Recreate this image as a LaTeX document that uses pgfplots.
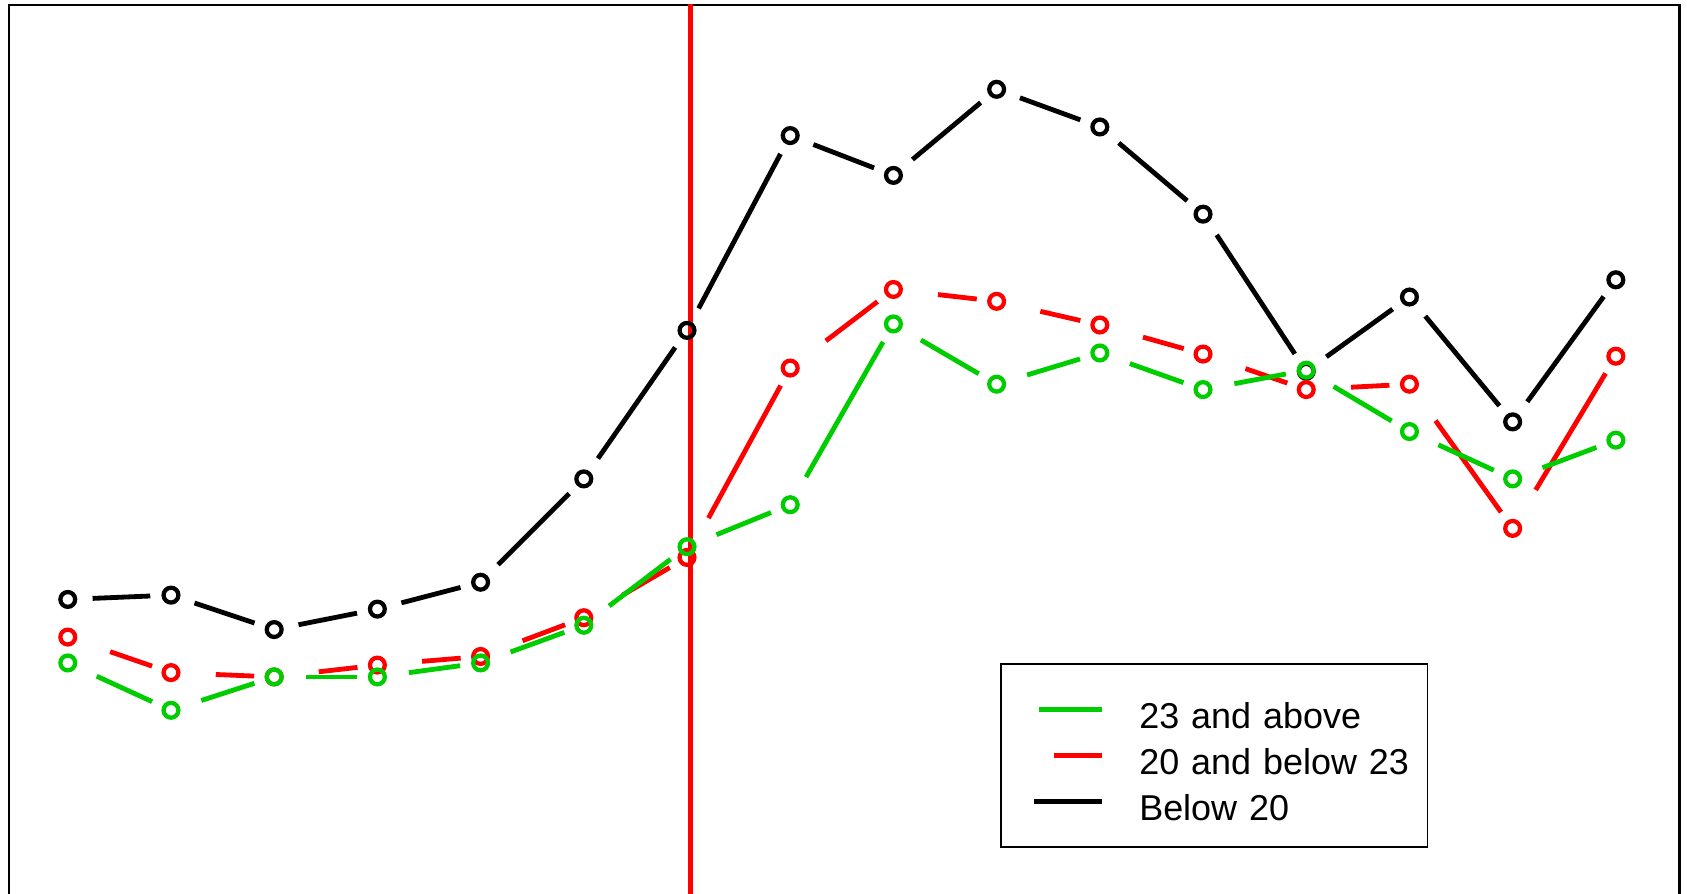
\documentclass[border=0pt]{standalone}
\usepackage{fontspec}
\setmainfont{Liberation Sans}
\usepackage{pgfplots}
\usepackage{pgfplotstable}
\pgfplotsset{compat=1.18}
\definecolor{rgreen}{RGB}{0,205,0}
\definecolor{rred}{RGB}{255,0,0}

\pgfplotstableread{
x y ny
0 273 277
1 277 245
2 245 264
3 264 289
4 289 385
5 385 523
6 523 704
7 704 667
8 667 747
9 747 712
10 712 631
11 631 485
12 485 554
13 554 438
14 438 570
15 570 570
}\blackdata

\pgfplotstableread{
x y ny
0 238 205
1 205 201
2 201 212
3 212 220
4 220 256
5 256 312
6 312 488
7 488 561
8 561 550
9 550 528
10 528 501
11 501 468
12 468 473
13 473 339
14 339 499
15 499 499
}\reddata

\pgfplotstableread{
x y ny
0 214 170
1 170 201
2 201 201
3 201 214
4 214 249
5 249 322
6 322 361
7 361 529
8 529 473
9 473 502
10 502 468
11 468 486
12 486 429
13 429 385
14 385 421
15 421 421
}\greendata

\begin{document}
\begin{tikzpicture}
\begin{axis}[
  x=0.97888cm, y=0.010204cm,
  xmin=-0.569, xmax=15.618, ymin=-30, ymax=825.4,
  xtick=\empty, ytick=\empty,
  axis line style={line width=0.7pt},
  legend style={at={(0.5932,0.2850)}, anchor=north west,
    draw=black, line width=0.45pt, fill=white,
    inner xsep=0pt, inner ysep=5.95pt, row sep=0pt, column sep=9.3pt,
    cells={anchor=west},
    nodes={inner sep=0pt, text height=11.35pt, text depth=1.15pt,
      text width=77.8pt, align=left, font=\fontsize{9.7}{12}\selectfont}},
]
% Below 20
\addplot[black, line width=1.3pt, no markers, forget plot,
  quiver={u=1, v=\thisrow{ny}-\thisrow{y},
    every arrow/.append style={shorten <=6.7pt, shorten >=5.6pt}},
  skip coords between index={15}{16}] table[x=x,y=y] {\blackdata};
\addplot[only marks, black, mark=o, mark size=2pt,
  mark options={line width=1.15pt}, forget plot] table[x=x,y=y] {\blackdata};
% 20 and below 23
\addplot[rred, line width=1.3pt, no markers, forget plot,
  quiver={u=1, v=\thisrow{ny}-\thisrow{y},
    every arrow/.append style={shorten <=12.1pt, shorten >=5.4pt}},
  skip coords between index={15}{16}] table[x=x,y=y] {\reddata};
\addplot[only marks, rred, mark=o, mark size=2pt,
  mark options={line width=1.15pt}, forget plot] table[x=x,y=y] {\reddata};
% 23 and above
\addplot[rgreen, line width=1.3pt, no markers, forget plot,
  quiver={u=1, v=\thisrow{ny}-\thisrow{y},
    every arrow/.append style={shorten <=8.6pt, shorten >=5.6pt}},
  skip coords between index={15}{16}] table[x=x,y=y] {\greendata};
\addplot[only marks, rgreen, mark=o, mark size=2pt,
  mark options={line width=1.15pt}, forget plot] table[x=x,y=y] {\greendata};
% vertical line
\addplot[rred, line width=1.4pt, forget plot] coordinates {(6.03,-100) (6.03,1000)};

\addlegendimage{legend image code/.code={
  \path[draw=none, fill=none] (0pt,0pt) -- (27.4pt,0pt);
  \draw[rgreen, line width=1.3pt] (10.2pt,0pt) -- (27.4pt,0pt);}}
\addlegendentry{23 and above}
\addlegendimage{legend image code/.code={
  \path[draw=none, fill=none] (0pt,0pt) -- (27.4pt,0pt);
  \draw[rred, line width=1.3pt] (14.2pt,0pt) -- (27.4pt,0pt);}}
\addlegendentry{20 and below 23}
\addlegendimage{legend image code/.code={
  \path[draw=none, fill=none] (0pt,0pt) -- (27.4pt,0pt);
  \draw[black, line width=1.3pt] (8.9pt,0pt) -- (27.4pt,0pt);}}
\addlegendentry{Below 20}

\coordinate (bbsw) at (axis cs:-0.6567,0);
\coordinate (bbne) at (axis cs:15.6893,830);
\end{axis}
\pgfresetboundingbox
\path (bbsw) rectangle (bbne);
\end{tikzpicture}
\end{document}
